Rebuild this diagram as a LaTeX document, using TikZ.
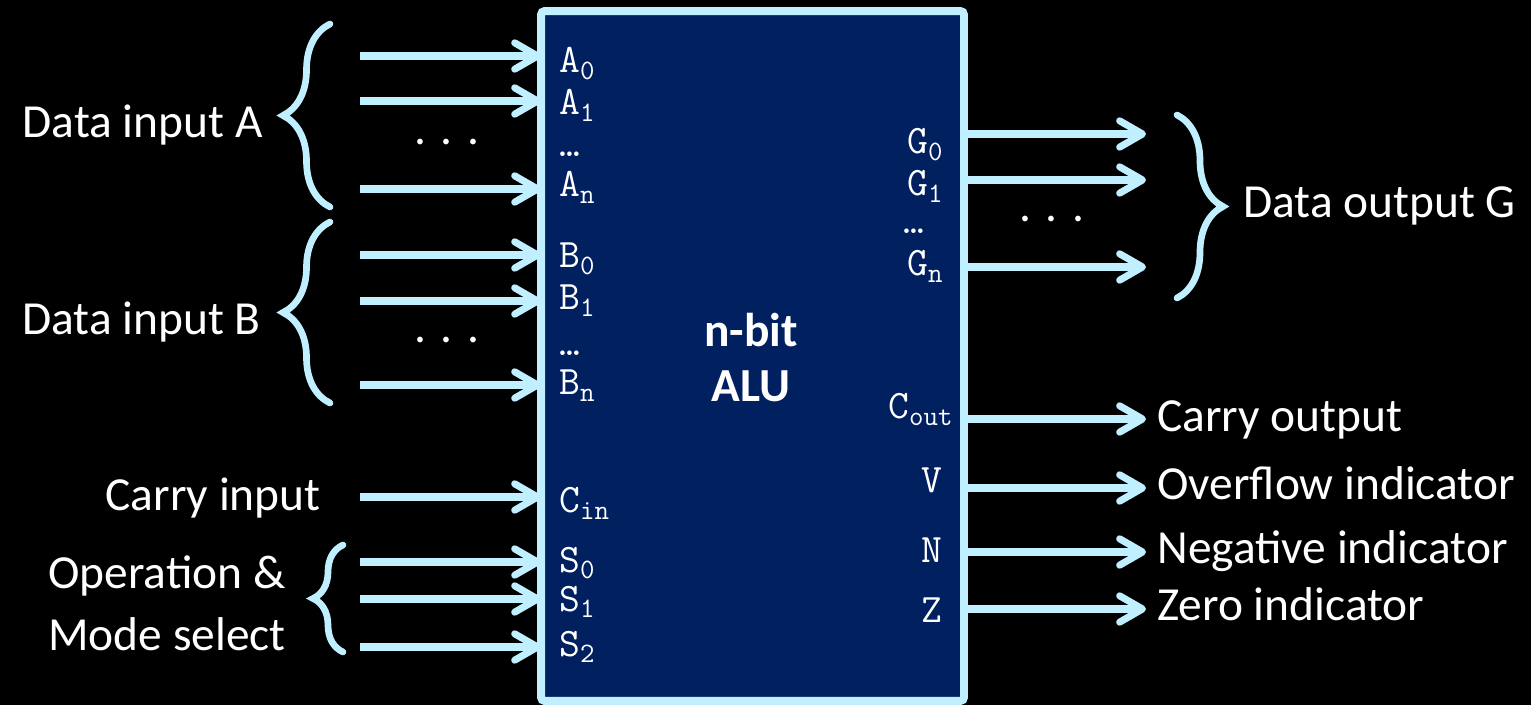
\documentclass[tikz,border=0pt]{standalone}
\usepackage{fontspec}
\setmainfont{Carlito}
\usetikzlibrary{arrows.meta,decorations.pathreplacing}
\definecolor{wirecyan}{RGB}{192,240,255}
\definecolor{aluback}{RGB}{0,32,96}
\newcommand{\pinsub}[2]{#1\raisebox{-.17em}{\fontsize{16}{16}\selectfont#2}}
\tikzset{
  bus/.style={draw=wirecyan,line width=4pt,-{Straight Barb[round,length=13pt,width=15pt]}},
  grp/.style={draw=wirecyan,line width=3.8pt,line cap=round,decorate,decoration={brace,amplitude=#1}},
  grp/.default=0.94cm,
  txt/.style={text=white,inner sep=0pt,font=\fontsize{27}{31}\selectfont},
  pin/.style={text=white,inner sep=0pt,font=\ttfamily\fontsize{23}{25}\selectfont},
}
\begin{document}
\begin{tikzpicture}[x=0.02cm,y=-0.02cm]
\fill[black] (0,0) rectangle (1531,705);
\node[draw=wirecyan,fill=aluback,line width=4.5pt,rounded corners=2pt,minimum width=8.46cm,minimum height=13.8cm,inner sep=0pt,outer sep=0pt] (alu) at (752.5,356) {};
\node[txt,font=\fontsize{27}{31}\selectfont\bfseries,anchor=base] (nbit) at (751,347) {n-bit};
\node[txt,font=\fontsize{27}{31}\selectfont\bfseries,anchor=base] (alutxt) at (751,402) {ALU};

% inputs
\foreach \y/\n in {56/a0,101/a1,189/an,255/b0,301/b1,385/bn,497/cin,562/s0,599/s1,647/s2}{
  \coordinate (src-\n) at (360,\y);
  \draw[bus] (src-\n) -- (src-\n -| alu.west);
}
\foreach \t/\s/\y in {A/0/73,A/1/115,A/n/197,B/0/268,B/1/310,B/n/395,C/in/513,S/0/572,S/1/611,S/2/656}
  \node[pin,anchor=base west] (pin-\t\s) at (559,\y) {\pinsub{\t}{\s}};
\node[pin,anchor=base west] (pin-adots) at (559,157) {\ldots};
\node[pin,anchor=base west] (pin-bdots) at (559,356) {\ldots};

% outputs
\foreach \y/\n in {134/g0,180/g1,267/gn,419/cout,488/v,552/n,609/z}{
  \coordinate (dst-\n) at (1146,\y);
  \draw[bus] (dst-\n -| alu.east) -- (dst-\n);
}
\foreach \t/\s/\y in {G/0/154,G/1/196,G/n/276}
  \node[pin,anchor=base east] (pin-\t\s) at (943,\y) {\pinsub{\t}{\s}};
\node[pin,anchor=base west] (pin-gdots) at (903,234) {\ldots};
\node[pin,anchor=base east] (pin-cout) at (953,419) {\pinsub{C}{out}};
\foreach \t/\y in {V/493,N/562,Z/622}
  \node[pin,anchor=base east] (pin-\t) at (943,\y) {\t};

% groups and labels
\draw[grp] (330,207) -- (330,24);
\draw[grp] (330,403) -- (330,222);
\draw[grp=0.6cm] (343,652) -- (343,545);
\draw[grp=0.92cm] (1177,115) -- (1177,298);
\node[txt] (dots-a) at (447,142) {. . .};
\node[txt] (dots-b) at (447,340) {. . .};
\node[txt] (dots-g) at (1052,219) {. . .};
\node[txt,anchor=base east] (lab-a) at (263,138) {Data input A};
\node[txt,anchor=base east] (lab-b) at (261,335) {Data input B};
\node[txt,anchor=base east] (lab-cin) at (321,510) {Carry input};
\node[txt,anchor=base west] (lab-op) at (48,588) {Operation \&};
\node[txt,anchor=base west] (lab-mode) at (48,650) {Mode select};
\node[txt,anchor=base west] (lab-g) at (1243,218) {Data output G};
\foreach \b/\t [count=\i] in {432/Carry output,500/Overflow indicator,563/Negative indicator,620/Zero indicator}
  \node[txt,anchor=base west] (lab-st\i) at (1157,\b) {\t};
\end{tikzpicture}
\end{document}
